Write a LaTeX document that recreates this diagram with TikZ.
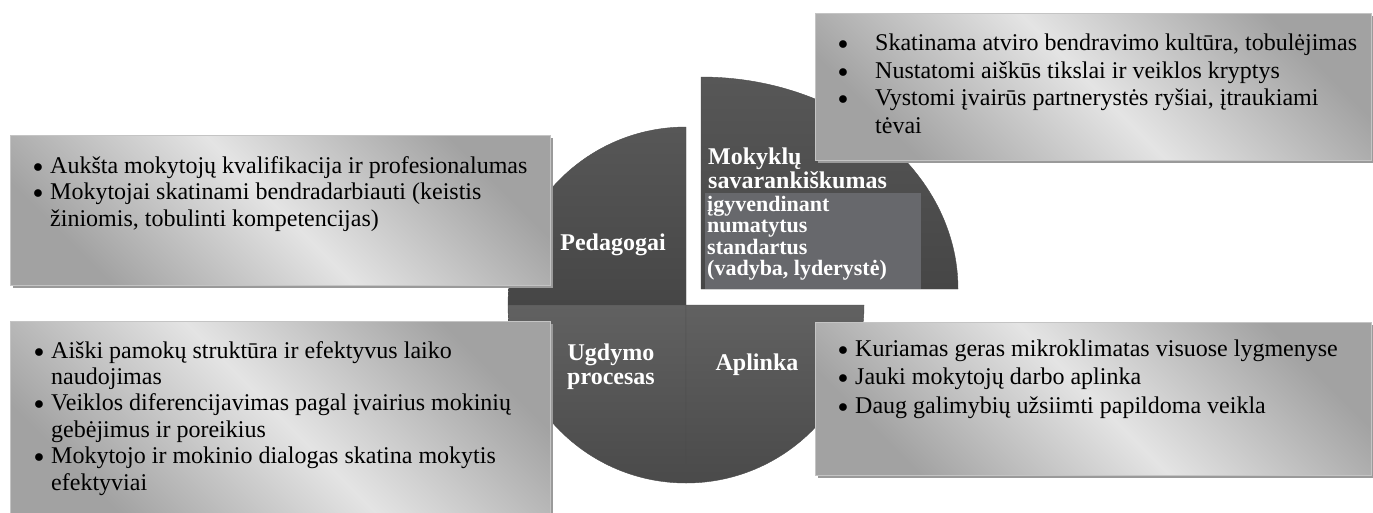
\documentclass[tikz,border=0pt]{standalone}
\usepackage{fontspec}
\usepackage{graphicx}
\setmainfont{Liberation Serif}
\definecolor{boxd}{HTML}{A2A2A2}
\definecolor{boxl}{HTML}{E4E4E4}
\definecolor{boxedge}{HTML}{C4C4C4}
\definecolor{shad}{HTML}{9A9A9A}
\definecolor{qtop}{HTML}{575757}
\definecolor{qbot}{HTML}{464646}
\definecolor{qltop}{HTML}{616161}
\definecolor{qlbot}{HTML}{4A4A4A}
\definecolor{ovf}{HTML}{67686C}
\newlength\bw
\newcommand\dotb{\raisebox{0.04em}{\scalebox{0.8}{$\bullet$}}}
\newcommand\itm[1]{\hbox{\makebox[\bw][l]{\dotb}#1}}
\newcommand\cnt[1]{\hbox{\hspace*{\bw}#1}}
\newcommand\stack[2]{\vtop{\baselineskip=#1\lineskiplimit=-30pt\lineskip=0pt\relax #2}}
\begin{document}
\begin{tikzpicture}[x=1pt,y=-1pt,
  quad/.style={draw=black!70, line width=0.4pt},
  infobox/.style={draw=boxedge, line width=0.7pt, top color=boxd, bottom color=boxd, middle color=boxl, shading angle=-45, inner sep=0pt, outer sep=0pt, anchor=north west},
  shadowbox/.style={fill=shad, draw=none},
  body/.style={anchor=base west, inner sep=0pt, font=\fontsize{24}{27}\selectfont},
  lab/.style={text=white, inner sep=0pt, font=\fontsize{24}{24}\selectfont\bfseries}
]
\useasboundingbox (0,0) rectangle (1373,512);
\fill[white] (0,0) rectangle (1373,512);

% pie quadrants
\path[quad, top color=qtop, bottom color=qbot] (701,289) -- (958,289) arc[start angle=0, end angle=-90, x radius=257, y radius=212] -- cycle;
\path[quad, top color=qtop, bottom color=qbot] (686,305) -- (508,305) arc[start angle=180, end angle=270, radius=178] -- cycle;
\path[quad, top color=qltop, bottom color=qlbot] (686,305) -- (686,483) arc[start angle=90, end angle=180, radius=178] -- cycle;
\path[quad, top color=qltop, bottom color=qlbot] (686,305) -- (864,305) arc[start angle=0, end angle=90, radius=178] -- cycle;

% overflow text panel
\node[fill=ovf, minimum width=216pt, minimum height=96pt, anchor=north west, inner sep=0pt, outer sep=0pt] (ovb) at (705,193) {};

% shadows of boxes
\fill[shadowbox] (13,138) rectangle (553,288);
\fill[shadowbox] (13,324) rectangle (553,513);
\fill[shadowbox] (818,16) rectangle (1373,163);
\fill[shadowbox] (818,325) rectangle (1373,478);

% boxes
\node[infobox, minimum width=540pt, minimum height=150pt] (b1) at (10,135) {};
\node[infobox, minimum width=540pt, minimum height=192pt] (b2) at (10,321) {};
\node[infobox, minimum width=556pt, minimum height=147pt] (b3) at (815,13) {};
\node[infobox, minimum width=556pt, minimum height=153pt] (b4) at (815,322) {};

% box texts
\node[body] (t1) at (33,173) {\setlength\bw{17pt}\stack{26.5pt}{%
\itm{Aukšta mokytojų kvalifikacija ir profesionalumas}%
\itm{Mokytojai skatinami bendradarbiauti (keistis}%
\cnt{žiniomis, tobulinti kompetencijas)}}};

\node[body] (t2) at (34,358) {\setlength\bw{17pt}\stack{26.4pt}{%
\itm{Aiški pamokų struktūra ir efektyvus laiko}%
\cnt{naudojimas}%
\itm{Veiklos diferencijavimas pagal įvairius mokinių}%
\cnt{gebėjimus ir poreikius}%
\itm{Mokytojo ir mokinio dialogas skatina mokytis}%
\cnt{efektyviai}}};

\node[body] (t3) at (838,50.5) {\setlength\bw{37pt}\stack{27.5pt}{%
\itm{Skatinama atviro bendravimo kultūra, tobulėjimas}%
\itm{Nustatomi aiškūs tikslai ir veiklos kryptys}%
\itm{Vystomi įvairūs partnerystės ryšiai, įtraukiami}%
\cnt{tėvai}}};

\node[body] (t4) at (838,356) {\setlength\bw{17pt}\stack{28.5pt}{%
\itm{Kuriamas geras mikroklimatas visuose lygmenyse}%
\itm{Jauki mokytojų darbo aplinka}%
\itm{Daug galimybių užsiimti papildoma veikla}}};

% quadrant labels
\node[lab, anchor=base] (pe) at (613,250.5) {Pedagogai};
\node[lab, anchor=base] (ug1) at (611,360) {Ugdymo};
\node[lab, anchor=base] (ug2) at (611,384) {procesas};
\node[lab, anchor=base] (ap) at (757,370) {Aplinka};
\node[lab, anchor=base west] (mo1) at (708,164.5) {Mokyklų};
\node[lab, anchor=base west] (mo2) at (708,188.5) {savarankiškumas};
\node[lab, anchor=base west, font=\fontsize{22}{22}\selectfont\bfseries] (ovt) at (707,211.7) {\stack{21.2pt}{%
\hbox{įgyvendinant}\hbox{numatytus}\hbox{standartus}\hbox{(vadyba, lyderystė)}}};
\end{tikzpicture}
\end{document}
